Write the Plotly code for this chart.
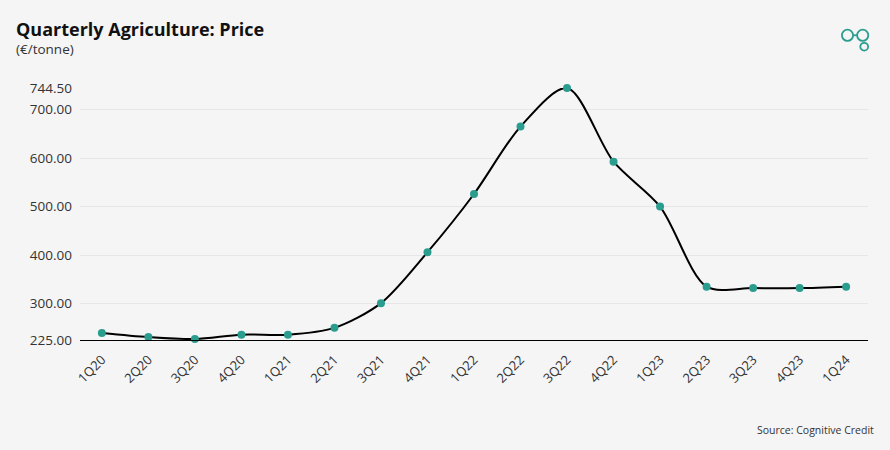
import plotly.graph_objects as go

quarters = ["1Q20", "2Q20", "3Q20", "4Q20", "1Q21", "2Q21", "3Q21", "4Q21",
            "1Q22", "2Q22", "3Q22", "4Q22", "1Q23", "2Q23", "3Q23", "4Q23", "1Q24"]
price = [239.5, 231.0, 227.0, 236.0, 236.0, 250.0, 301.0, 406.0,
         526.0, 665.0, 744.5, 592.5, 500.0, 335.0, 332.0, 332.0, 335.0]
y_ticks = [225, 300, 400, 500, 600, 700, 744.5]
y_tick_text = ["225.00", "300.00", "400.00", "500.00", "600.00", "700.00", "744.50"]

TEAL = "#2a9d8f"
FONT = "Open Sans"

fig = go.Figure()
fig.add_trace(go.Scatter(
    x=list(range(len(quarters))), y=price, mode="lines+markers",
    line=dict(color="black", width=2, shape="spline", smoothing=0.85),
    marker=dict(color=TEAL, size=8),
    cliponaxis=False, showlegend=False,
))

fig.update_layout(
    width=890, height=450,
    margin=dict(l=80, r=22, t=88, b=110),
    paper_bgcolor="#f5f5f5", plot_bgcolor="#f5f5f5",
    font=dict(family=FONT, color="#333333", size=13),
    xaxis=dict(
        tickmode="array", tickvals=list(range(len(quarters))), ticktext=quarters,
        range=[-0.47, 16.47], tickangle=-45, showgrid=False, zeroline=False,
        showline=True, linecolor="black", linewidth=1.2,
        tickfont=dict(size=13, color="#333333"), ticks="", ticklabelstandoff=6,
    ),
    yaxis=dict(
        tickmode="array", tickvals=y_ticks, ticktext=y_tick_text,
        range=[225, 744.5], showgrid=True, gridcolor="#e6e6e6", gridwidth=1,
        zeroline=False, showline=False, tickfont=dict(size=13.5, color="#333333"),
        ticks="", ticklabelstandoff=7,
    ),
)

ph = 450 - 88 - 110
pw = 890 - 80 - 22
def px(xp):
    return (xp - 80) / pw
def py(yp):
    return (450 - 110 - yp) / ph

fig.update_layout(annotations=[
    dict(text="<b>Quarterly Agriculture: Price</b>", xref="paper", yref="paper",
         x=px(14), y=py(29), xanchor="left", yanchor="middle", showarrow=False,
         font=dict(size=18, color="#111111", family=FONT)),
    dict(text="(€/tonne)", xref="paper", yref="paper",
         x=px(14), y=py(49), xanchor="left", yanchor="middle", showarrow=False,
         font=dict(size=13.5, color="#333333", family=FONT)),
    dict(text="Source: Cognitive Credit", xref="paper", yref="paper",
         x=px(876), y=py(430), xanchor="right", yanchor="middle", showarrow=False,
         font=dict(size=10.5, color="#333333", family=FONT)),
])

# logo
shapes = []
for cx, cy, r in [(847.5, 35.3, 5.6), (862.7, 35.3, 5.6), (864.2, 46.7, 3.9)]:
    shapes.append(dict(type="circle", xref="paper", yref="paper",
                       x0=px(cx - r), x1=px(cx + r), y0=py(cy + r), y1=py(cy - r),
                       line=dict(color=TEAL, width=1.8)))
shapes.append(dict(type="line", xref="paper", yref="paper",
                   x0=px(853), x1=px(857.2), y0=py(35.3), y1=py(35.3),
                   line=dict(color=TEAL, width=1.8)))
fig.update_layout(shapes=shapes)

fig.write_html("out.html")
